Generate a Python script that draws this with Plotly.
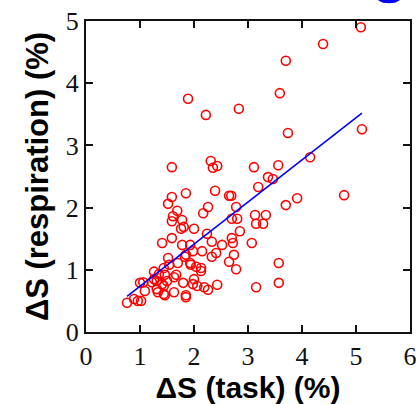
import plotly.graph_objects as go
import numpy as np

# Change in signal during the task (x) vs. change attributable to respiration (y), in %
task_pct = [
    1.89, 2.22, 2.83, 3.59, 3.70, 4.39, 5.09, 3.74, 5.11,
    2.31, 2.35, 2.43, 3.11, 3.56, 4.15, 3.37, 3.46, 3.19, 2.39, 2.65, 2.69, 3.91, 4.78,
    2.17, 2.26, 2.78, 2.70, 2.80, 2.85, 3.13, 3.15, 3.28, 3.33, 3.70, 2.24, 2.33, 2.52,
    2.70, 2.72, 3.07, 2.15, 2.41, 2.33, 2.74, 2.65, 2.78, 3.57, 2.13, 2.13, 2.19, 2.26,
    2.43, 3.15, 3.57,
    1.59, 1.85, 1.59, 1.52, 1.69, 1.59, 1.78, 1.81, 1.61, 1.76, 2.00, 1.41, 1.59, 1.78,
    1.93, 1.52, 1.85, 1.83, 1.98, 1.70, 1.93, 2.04,
    0.76, 0.89, 0.96, 1.02, 1.09, 1.00, 1.06, 1.22, 1.26, 1.31, 1.35, 1.31, 1.41, 1.44,
    1.50, 1.46, 1.63, 1.67, 1.44, 1.54, 1.80, 1.63, 1.46, 1.44, 1.33, 1.85, 1.85, 1.94,
    2.00, 1.98, 2.06, 1.26,
]
resp_pct = [
    3.75, 3.49, 3.59, 3.84, 4.36, 4.63, 4.90, 3.20, 3.26,
    2.75, 2.64, 2.67, 2.65, 2.68, 2.81, 2.49, 2.46, 2.33, 2.27, 2.19, 2.19, 2.15, 2.20,
    1.91, 2.01, 2.01, 1.82, 1.82, 1.62, 1.88, 1.74, 1.74, 1.88, 2.04, 1.58, 1.45, 1.40,
    1.51, 1.43, 1.43, 1.30, 1.27, 1.21, 1.24, 1.13, 1.01, 1.11, 1.03, 0.98, 0.72, 0.68,
    0.76, 0.72, 0.79,
    2.65, 2.23, 2.17, 2.06, 1.95, 1.78, 1.80, 1.69, 1.86, 1.66, 1.66, 1.43, 1.51, 1.40,
    1.40, 1.19, 1.24, 1.21, 1.30, 1.11, 1.11, 1.05,
    0.47, 0.53, 0.50, 0.50, 0.66, 0.79, 0.80, 0.80, 0.85, 0.82, 0.93, 0.69, 0.77, 0.74,
    0.82, 0.92, 0.88, 0.92, 1.03, 1.08, 0.79, 0.64, 0.59, 0.61, 0.64, 0.59, 0.56, 1.08,
    0.85, 0.77, 0.74, 0.97,
]

# Linear fit: resp = FIT_INTERCEPT + FIT_SLOPE * task
FIT_SLOPE = 0.677
FIT_INTERCEPT = 0.059

x_ticks = [0, 1, 2, 3, 4, 5, 6]
y_ticks = [0, 1, 2, 3, 4, 5]

fit_x = np.array([min(task_pct), max(task_pct)])
fit_y = FIT_INTERCEPT + FIT_SLOPE * fit_x

fig = go.Figure()
fig.add_trace(go.Scatter(
    x=task_pct, y=resp_pct, mode="markers",
    marker=dict(symbol="circle-open", size=9, color="#ff0000",
                line=dict(color="#ff0000", width=1.6)),
    showlegend=False, cliponaxis=False,
))
fig.add_trace(go.Scatter(
    x=fit_x, y=fit_y, mode="lines",
    line=dict(color="#0000ff", width=1.6),
    showlegend=False,
))

# Lower edge of a solid blue disc peeking in above the frame
fig.add_shape(type="path", xref="paper", yref="paper", layer="above",
              path=("M 0.896,1.09 L 0.897,1.072 L 0.905,1.064 L 0.917,1.059 "
                    "L 0.935,1.057 L 0.953,1.059 L 0.965,1.064 L 0.973,1.072 "
                    "L 0.974,1.09 Z"),
              fillcolor="#0000ff", line=dict(width=0))

tick_font = dict(family="Liberation Serif", size=26, color="#111111")
title_font = dict(family="Liberation Sans", size=30, color="#000000", weight="bold")

fig.update_xaxes(
    range=[0, 6], tickvals=x_ticks, ticktext=[str(v) for v in x_ticks],
    showgrid=False, zeroline=False, automargin=False, ticklabeloverflow="allow",
    showline=True, linecolor="#111111", linewidth=2, mirror="ticks",
    ticks="inside", ticklen=7, tickwidth=1.5, tickcolor="#111111",
    tickfont=tick_font,
    title=dict(text="ΔS (task) (%)", font=title_font, standoff=13),
)
fig.update_yaxes(
    range=[0, 5], tickvals=y_ticks, ticktext=[str(v) for v in y_ticks],
    showgrid=False, zeroline=False, automargin=False, ticklabeloverflow="allow",
    showline=True, linecolor="#111111", linewidth=2, mirror="ticks",
    ticks="inside", ticklen=7, tickwidth=1.5, tickcolor="#111111",
    tickfont=tick_font,
    title=dict(text="ΔS (respiration) (%)", font=dict(title_font, size=31), standoff=8),
)
fig.update_layout(
    width=416, height=404,
    margin=dict(l=86, r=6, t=21, b=72),
    paper_bgcolor="white", plot_bgcolor="white",
)
fig.write_html("out.html")
